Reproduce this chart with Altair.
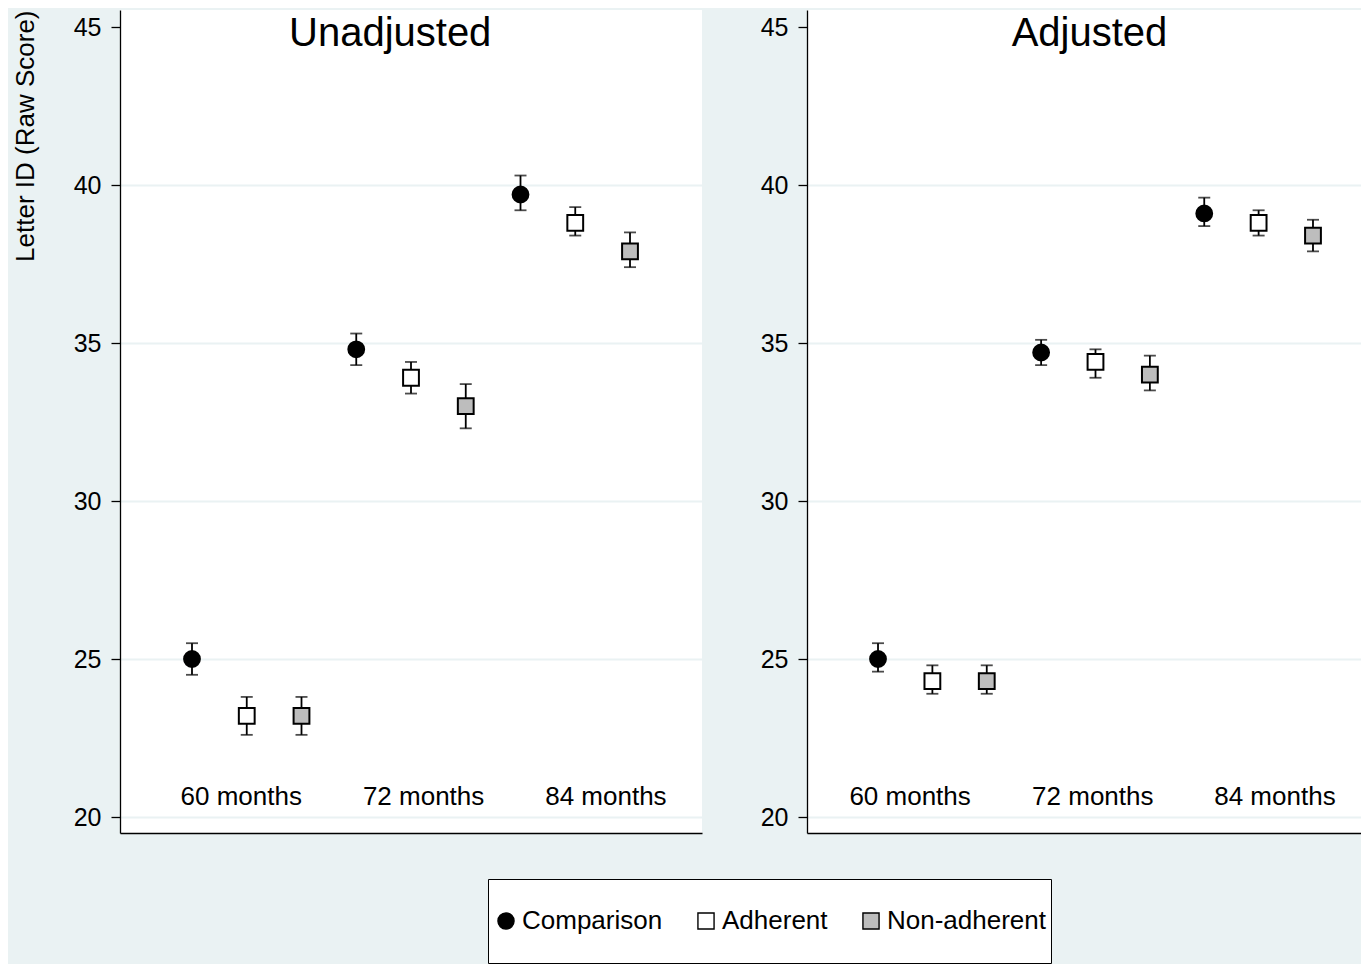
import altair as alt
import pandas as pd

# ---------------- data ----------------
groups = ["Comparison", "Adherent", "Non-adherent"]
months = ["60 months", "72 months", "84 months"]

# Unadjusted (mean, lower CI, upper CI) per month
unadj_comparison = [25.0, 34.8, 39.7]
unadj_comparison_lo = [24.5, 34.3, 39.2]
unadj_comparison_hi = [25.5, 35.3, 40.3]
unadj_adherent = [23.2, 33.9, 38.8]
unadj_adherent_lo = [22.6, 33.4, 38.4]
unadj_adherent_hi = [23.8, 34.4, 39.3]
unadj_nonadherent = [23.2, 33.0, 37.9]
unadj_nonadherent_lo = [22.6, 32.3, 37.4]
unadj_nonadherent_hi = [23.8, 33.7, 38.5]

# Adjusted
adj_comparison = [25.0, 34.7, 39.1]
adj_comparison_lo = [24.6, 34.3, 38.7]
adj_comparison_hi = [25.5, 35.1, 39.6]
adj_adherent = [24.3, 34.4, 38.8]
adj_adherent_lo = [23.9, 33.9, 38.4]
adj_adherent_hi = [24.8, 34.8, 39.2]
adj_nonadherent = [24.3, 34.0, 38.4]
adj_nonadherent_lo = [23.9, 33.5, 37.9]
adj_nonadherent_hi = [24.8, 34.6, 38.9]

y_ticks = [20, 25, 30, 35, 40, 45]


def build(mean_lists, lo_lists, hi_lists):
    rows = []
    for mi, m in enumerate(months):
        for gi, g in enumerate(groups):
            rows.append({
                "month": m,
                "group": g,
                "pos": mi * 3 + gi + 1,
                "mean": mean_lists[gi][mi],
                "lo": lo_lists[gi][mi],
                "hi": hi_lists[gi][mi],
            })
    return pd.DataFrame(rows)


unadj_df = build(
    [unadj_comparison, unadj_adherent, unadj_nonadherent],
    [unadj_comparison_lo, unadj_adherent_lo, unadj_nonadherent_lo],
    [unadj_comparison_hi, unadj_adherent_hi, unadj_nonadherent_hi],
)
adj_df = build(
    [adj_comparison, adj_adherent, adj_nonadherent],
    [adj_comparison_lo, adj_adherent_lo, adj_nonadherent_lo],
    [adj_comparison_hi, adj_adherent_hi, adj_nonadherent_hi],
)

# ---------------- styling / layout ----------------
BG = "#EAF2F3"
FONT = "Liberation Sans"
Y_DOMAIN = [19.494, 45.538]
PLOT_H = 823

fill_scale = alt.Scale(domain=groups, range=["black", "white", "#BDBDBD"])
shape_scale = alt.Scale(domain=groups, range=["circle", "square", "square"])
stroke_scale = alt.Scale(domain=groups, range=["black", "black", "black"])

legend = alt.Legend(
    orient="none", legendX=368, legendY=869, direction="horizontal", title=None,
    fillColor="white", strokeColor="black", padding=5, clipHeight=74,
    symbolSize=260, symbolStrokeWidth=1.4,
    labelFontSize=26, labelColor="black", labelOffset=3,
    columnPadding=30, labelFont=FONT, labelLimit=400,
)


def panel(df, title, x_domain, width, label_x, title_x, y_title):
    x = alt.X("pos:Q", scale=alt.Scale(domain=x_domain, nice=False, zero=False),
              axis=alt.Axis(labels=False, ticks=False, grid=False, domainColor="black",
                            domainWidth=1.3, title=None))
    yaxis_kwargs = dict(
        values=y_ticks, grid=True, gridColor=BG, gridWidth=1.8,
        gridOpacity={"condition": {"test": "datum.value >= 45", "value": 0}, "value": 1},
        domainColor="black", domainWidth=1.3, tickColor="black", tickSize=9,
        tickWidth=1.3, labelFontSize=25, labelColor="black", labelPadding=10,
        labelFont=FONT,
    )
    if y_title:
        yaxis = alt.Axis(title=y_title, titleFontSize=26, titleFontWeight="normal",
                         titleAnchor="end", titlePadding=35, titleColor="black",
                         titleFont=FONT, **yaxis_kwargs)
    else:
        yaxis = alt.Axis(title=None, **yaxis_kwargs)
    yscale = alt.Scale(domain=Y_DOMAIN, nice=False, zero=False)

    base = alt.Chart(df)
    rules = base.mark_rule(color="black", strokeWidth=1.8).encode(
        x=x, y=alt.Y("lo:Q", scale=yscale, axis=yaxis), y2="hi:Q")
    cap_lo = base.mark_tick(orient="horizontal", size=12, thickness=1.8, color="black").encode(
        x="pos:Q", y="lo:Q")
    cap_hi = base.mark_tick(orient="horizontal", size=12, thickness=1.8, color="black").encode(
        x="pos:Q", y="hi:Q")
    pts = base.mark_point(filled=True, strokeWidth=2, size=250, opacity=1).encode(
        x="pos:Q", y="mean:Q",
        fill=alt.Fill("group:N", scale=fill_scale, legend=legend, sort=groups),
        shape=alt.Shape("group:N", scale=shape_scale, legend=legend, sort=groups),
        stroke=alt.Stroke("group:N", scale=stroke_scale, legend=legend, sort=groups),
    )
    lab_df = pd.DataFrame({"month": months, "lx": label_x})
    labels = alt.Chart(lab_df).mark_text(fontSize=26, font=FONT, color="black",
                                         baseline="middle", align="center").encode(
        x="lx:Q", y=alt.datum(20.62), text="month:N")
    ttl = alt.Chart(pd.DataFrame({"t": [title]})).mark_text(
        fontSize=40, font=FONT, color="black", baseline="alphabetic", align="center").encode(
        x=alt.datum(title_x), y=alt.datum(44.4), text="t:N")
    return alt.layer(rules, cap_lo, cap_hi, pts, labels, ttl).properties(
        width=width, height=PLOT_H,
        view=alt.ViewBackground(fill="white", strokeWidth=0),
    )


left = panel(unadj_df, "Unadjusted", [-0.315, 10.315], 582, [1.9, 5.23, 8.56], 4.62,
             "Letter ID (Raw Score)")
right = panel(adj_df, "Adjusted", [-0.306, 9.883], 554, [1.59, 4.95, 8.30], 4.89, None)

chart = alt.hconcat(left, right, spacing=105, bounds="flush").resolve_scale(
    x="independent", y="independent", fill="shared", shape="shared", stroke="shared"
).properties(
    background=BG,
    padding={"left": 4, "top": 1, "right": 0, "bottom": 0},
).configure(font=FONT).configure_view(fill="white", strokeWidth=0)

chart.save("out.html", embed_options={"renderer": "svg", "actions": False})
